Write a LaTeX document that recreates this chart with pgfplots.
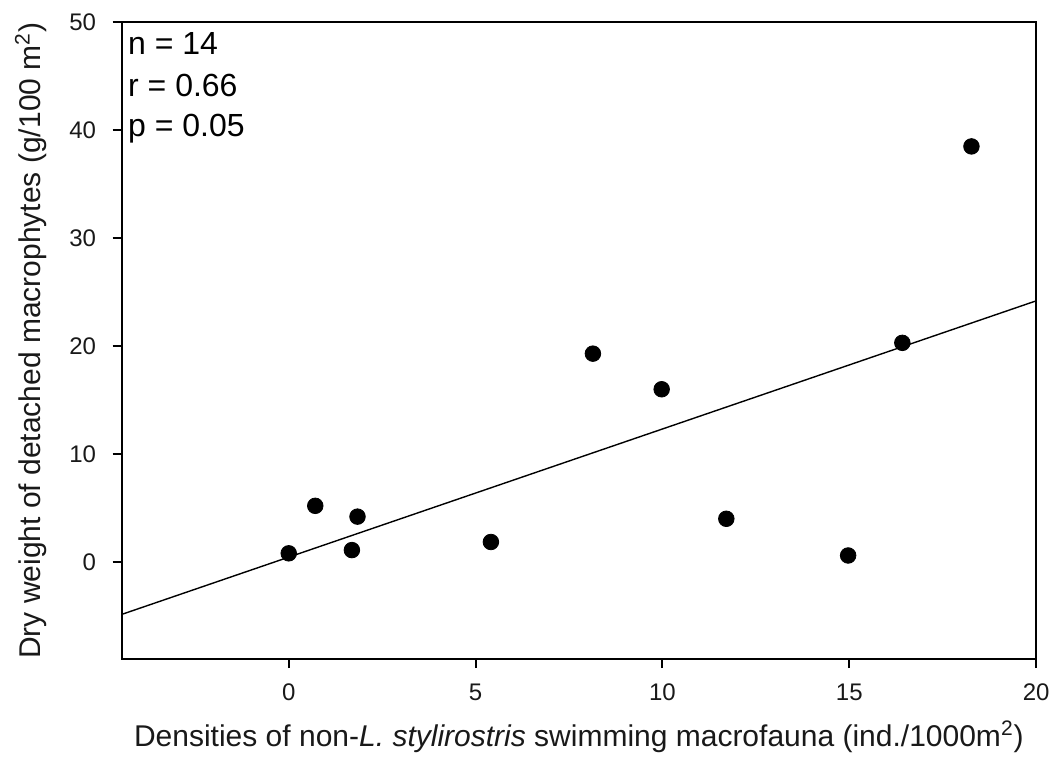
\documentclass[border=0pt]{standalone}
\usepackage{pgfplots}
\pgfplotsset{compat=1.18}
\usepackage{fontspec}
\setmainfont{Liberation Sans}

\newcommand\tickfont{\fontsize{12}{14}\selectfont}
\newcommand\labelfont{\fontsize{15}{18}\selectfont}
\newcommand\statfont{\fontsize{16}{19}\selectfont}

% observations: non-L. stylirostris swimming macrofauna vs detached macrophytes
\pgfplotstableread{
x      y
0.00   0.8
0.71   5.2
1.69   1.1
1.84   4.2
5.41   1.85
8.14   19.3
9.98   16.0
11.71  4.0
14.97  0.6
16.42  20.3
18.27  38.5
}\obsdata

\begin{document}
\begin{tikzpicture}
\begin{axis}[
  at={(0,0)}, anchor=south west,
  scale only axis=true,
  width=457.2pt, height=318.4pt,
  xmin=-4.47, xmax=20,
  ymin=-9, ymax=50,
  xtick={0,5,10,15,20},
  ytick={0,10,20,30,40,50},
  tick align=outside,
  xtick pos=left, ytick pos=left,
  major tick length=4.5pt,
  axis line style={line width=1pt},
  every tick/.style={black, line width=1pt},
  /pgf/number format/assume math mode=true,
  xticklabel={\tickfont\pgfmathprintnumber{\tick}},
  yticklabel={\tickfont\pgfmathprintnumber{\tick}},
  xticklabel style={text=black!90, yshift=-4.5pt},
  yticklabel style={text=black!90, xshift=-4.8pt},
  xlabel={\labelfont Densities of non-\textit{L. stylirostris} swimming macrofauna (ind./1000m\textsuperscript{2})},
  ylabel={\labelfont Dry weight of detached macrophytes (g/100 m\textsuperscript{2})},
  every axis y label/.style={at={(axis description cs:-0.0995,0.5)}, rotate=90, anchor=center, text=black!90},
  every axis x label/.style={at={(axis description cs:0.5,-0.122)}, anchor=center, text=black!90},
  clip=false,
]
\addplot[only marks, mark=*, mark size=3.9pt, black] table[x=x, y=y] {\obsdata};
% least-squares line across the plotting range
\addplot[black, line width=0.7pt] coordinates {(-4.47,-4.86) (20,24.19)};

\node[anchor=base west, font=\statfont] at ([xshift=-0.3pt, yshift=-16.35pt]rel axis cs:0,1) {n = 14};
\node[anchor=base west, font=\statfont] at ([xshift=-0.3pt, yshift=-37.2pt]rel axis cs:0,1) {r = 0.66};
\node[anchor=base west, font=\statfont] at ([xshift=-0.3pt, yshift=-57.2pt]rel axis cs:0,1) {p = 0.05};
\end{axis}
\pgfresetboundingbox
\useasboundingbox (-60.85pt,-50pt) rectangle (466.65pt,329.55pt);
\end{tikzpicture}
\end{document}
